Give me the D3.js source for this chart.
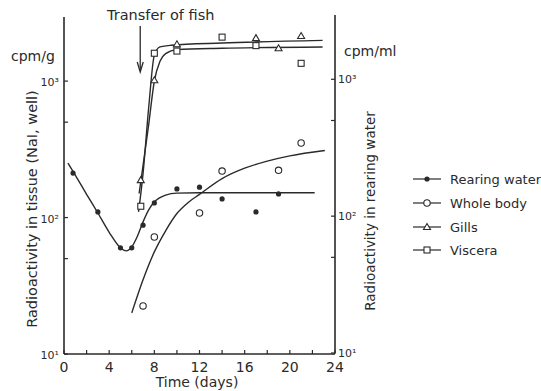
<!DOCTYPE html>
<html>
<head>
<meta charset="utf-8">
<script src="https://cdn.jsdelivr.net/npm/d3@7"></script>
<style>
  body { margin: 0; background: #fff; }
  svg text { font-family: "DejaVu Sans", sans-serif; fill: #2a2a2a; }
</style>
</head>
<body>
<div id="chart"></div>
<script>

// ---- data (day, cpm) ----
const rearingWater = [[0.8, 212], [3, 110], [5, 60], [6, 60], [7, 88], [8, 128], [10, 162], [12, 167], [14, 137], [17, 110], [19, 149]];
const wholeBody = [[7, 22.5], [8, 72], [12, 108], [14, 219], [19, 222], [21, 352]];
const gills = [[6.8, 188], [8, 1015], [10, 1860], [17, 2065], [19, 1740], [21, 2140]];
const viscera = [[6.8, 121], [8, 1600], [10, 1660], [14, 2100], [17, 1820], [21, 1350]];

// hand-drawn fitted curves
const rearingFit = [[0.35, 251], [1, 205], [2, 148], [3, 108], [4, 78], [5, 60], [5.5, 57], [6, 61], [6.5, 73], [7, 93], [7.5, 114], [8, 130], [9, 146], [10, 151], [12, 152], [22.2, 152]];
const wholeFit = [[6.0, 20], [7, 35], [8, 56], [9, 80], [10, 107], [11, 129], [12, 148], [14, 193], [16, 230], [18, 259], [20, 283], [23.1, 310]];
const gillsFit = [[6.65, 150], [7, 240], [7.5, 480], [8, 1000], [8.5, 1400], [9, 1590], [10, 1700], [14, 1740], [22.9, 1780]];
const visceraFit = [[6.6, 110], [7, 210], [7.5, 640], [8, 1550], [8.5, 1780], [9.5, 1830], [14, 1900], [22.9, 1990]];

const xTicks = d3.range(0, 25, 2);
const xLabels = [0, 4, 8, 12, 16, 20, 24];
const yMajor = [10, 100, 1000];
const yMinor = [50, 500];
const legendItems = ["Rearing water", "Whole body", "Gills", "Viscera"];
const legendSymbols = ["dot", "circle", "triangle", "square"];

const width = 541, height = 391;
const ink = "#2a2a2a";

const svg = d3.select("#chart").append("svg")
    .attr("width", width)
    .attr("height", height);

// scales
const x = d3.scaleLinear().domain([0, 24]).range([64, 335]);
const y = d3.scaleLog().domain([10, 2950]).range([354, 17]);
const yR = d3.scaleLog().domain([10, 2950]).range([353, 15]);

// axes lines
svg.append("line").attr("x1", x(0)).attr("x2", x(24)).attr("y1", y(10)).attr("y2", y(10))
    .attr("stroke", ink).attr("stroke-width", 1.6);
svg.append("line").attr("x1", x(0)).attr("x2", x(0)).attr("y1", y(10)).attr("y2", 17)
    .attr("stroke", ink).attr("stroke-width", 1.6);
svg.append("line").attr("x1", x(24)).attr("x2", x(24)).attr("y1", yR(10)).attr("y2", 15)
    .attr("stroke", ink).attr("stroke-width", 1.6);

// x ticks (inward)
svg.selectAll(".xt").data(xTicks).enter().append("line")
    .attr("x1", d => x(d)).attr("x2", d => x(d))
    .attr("y1", y(10)).attr("y2", y(10) - 4)
    .attr("stroke", ink).attr("stroke-width", 1.2);
svg.selectAll(".xl").data(xLabels).enter().append("text")
    .attr("x", d => x(d)).attr("y", 372)
    .attr("text-anchor", "middle").style("font-size", "14px")
    .text(d => d);

// left y ticks
svg.selectAll(".ylt").data(yMajor.concat(yMinor)).enter().append("line")
    .attr("x1", x(0)).attr("x2", x(0) + 4)
    .attr("y1", d => y(d)).attr("y2", d => y(d))
    .attr("stroke", ink).attr("stroke-width", 1.2);
// right y ticks
svg.selectAll(".yrt").data(yMajor.concat(yMinor)).enter().append("line")
    .attr("x1", x(24)).attr("x2", x(24) - 4)
    .attr("y1", d => yR(d)).attr("y2", d => yR(d))
    .attr("stroke", ink).attr("stroke-width", 1.2);

const supers = { 1: "\u00B9", 2: "\u00B2", 3: "\u00B3" };
svg.selectAll(".yll").data(yMajor).enter().append("text")
    .attr("x", x(0) - 5).attr("y", d => y(d) + 5)
    .attr("text-anchor", "end").style("font-size", "11px")
    .text(d => "10" + supers[Math.round(Math.log10(d))]);
svg.selectAll(".yrl").data(yMajor).enter().append("text")
    .attr("x", x(24) + 3).attr("y", d => yR(d) + 4)
    .attr("text-anchor", "start").style("font-size", "11px")
    .text(d => "10" + supers[Math.round(Math.log10(d))]);

// unit labels
svg.append("text").attr("x", 11).attr("y", 61).style("font-size", "14px").text("cpm/g");
svg.append("text").attr("x", 344).attr("y", 56).style("font-size", "14px").text("cpm/ml");

// axis titles
svg.append("text").attr("x", 197).attr("y", 387).attr("text-anchor", "middle")
    .style("font-size", "14px").text("Time (days)");
svg.append("text").attr("transform", "translate(37,209) rotate(-90)")
    .attr("text-anchor", "middle").style("font-size", "14.5px")
    .text("Radioactivity in tissue (NaI, well)");
svg.append("text").attr("transform", "translate(375,211) rotate(-90)")
    .attr("text-anchor", "middle").style("font-size", "13.5px")
    .text("Radioactivity in rearing water");

// transfer annotation
svg.append("text").attr("x", 107).attr("y", 20).style("font-size", "14.5px").text("Transfer of fish");
svg.append("line").attr("x1", x(6.75)).attr("x2", x(6.75)).attr("y1", 26).attr("y2", 70)
    .attr("stroke", ink).attr("stroke-width", 1.3);
svg.append("path")
    .attr("d", `M${x(6.75) - 3},62 L${x(6.75)},72 L${x(6.75) + 3},62`)
    .attr("fill", "none").attr("stroke", ink).attr("stroke-width", 1.3);

// fitted curves
const line = d3.line().x(d => x(d[0])).y(d => y(d[1])).curve(d3.curveMonotoneX);
[rearingFit, wholeFit, gillsFit, visceraFit].forEach(fit => {
    svg.append("path").attr("d", line(fit))
        .attr("fill", "none").attr("stroke", ink).attr("stroke-width", 1.4);
});

// markers
function drawSymbol(g, type, cx, cy) {
    if (type === "dot") {
        g.append("circle").attr("cx", cx).attr("cy", cy).attr("r", 2.6).attr("fill", ink);
    } else if (type === "circle") {
        g.append("circle").attr("cx", cx).attr("cy", cy).attr("r", 3.2)
            .attr("fill", "#fff").attr("stroke", ink).attr("stroke-width", 1.1);
    } else if (type === "triangle") {
        g.append("path").attr("d", `M${cx},${cy - 3.5} L${cx + 3.5},${cy + 2.5} L${cx - 3.5},${cy + 2.5} Z`)
            .attr("fill", "#fff").attr("stroke", ink).attr("stroke-width", 1.1);
    } else {
        g.append("rect").attr("x", cx - 3).attr("y", cy - 3).attr("width", 6).attr("height", 6)
            .attr("fill", "#fff").attr("stroke", ink).attr("stroke-width", 1.1);
    }
}

const series = [rearingWater, wholeBody, gills, viscera];
series.forEach((data, i) => {
    data.forEach(d => drawSymbol(svg, legendSymbols[i], x(d[0]), y(d[1])));
});

// legend
const legendY = [179, 203, 227, 250];
legendItems.forEach((name, i) => {
    svg.append("line").attr("x1", 413).attr("x2", 441)
        .attr("y1", legendY[i]).attr("y2", legendY[i])
        .attr("stroke", ink).attr("stroke-width", 1.2);
    drawSymbol(svg, legendSymbols[i], 427, legendY[i]);
    svg.append("text").attr("x", 450).attr("y", legendY[i] + 5)
        .style("font-size", "13px").text(name);
});

</script>
</body>
</html>
